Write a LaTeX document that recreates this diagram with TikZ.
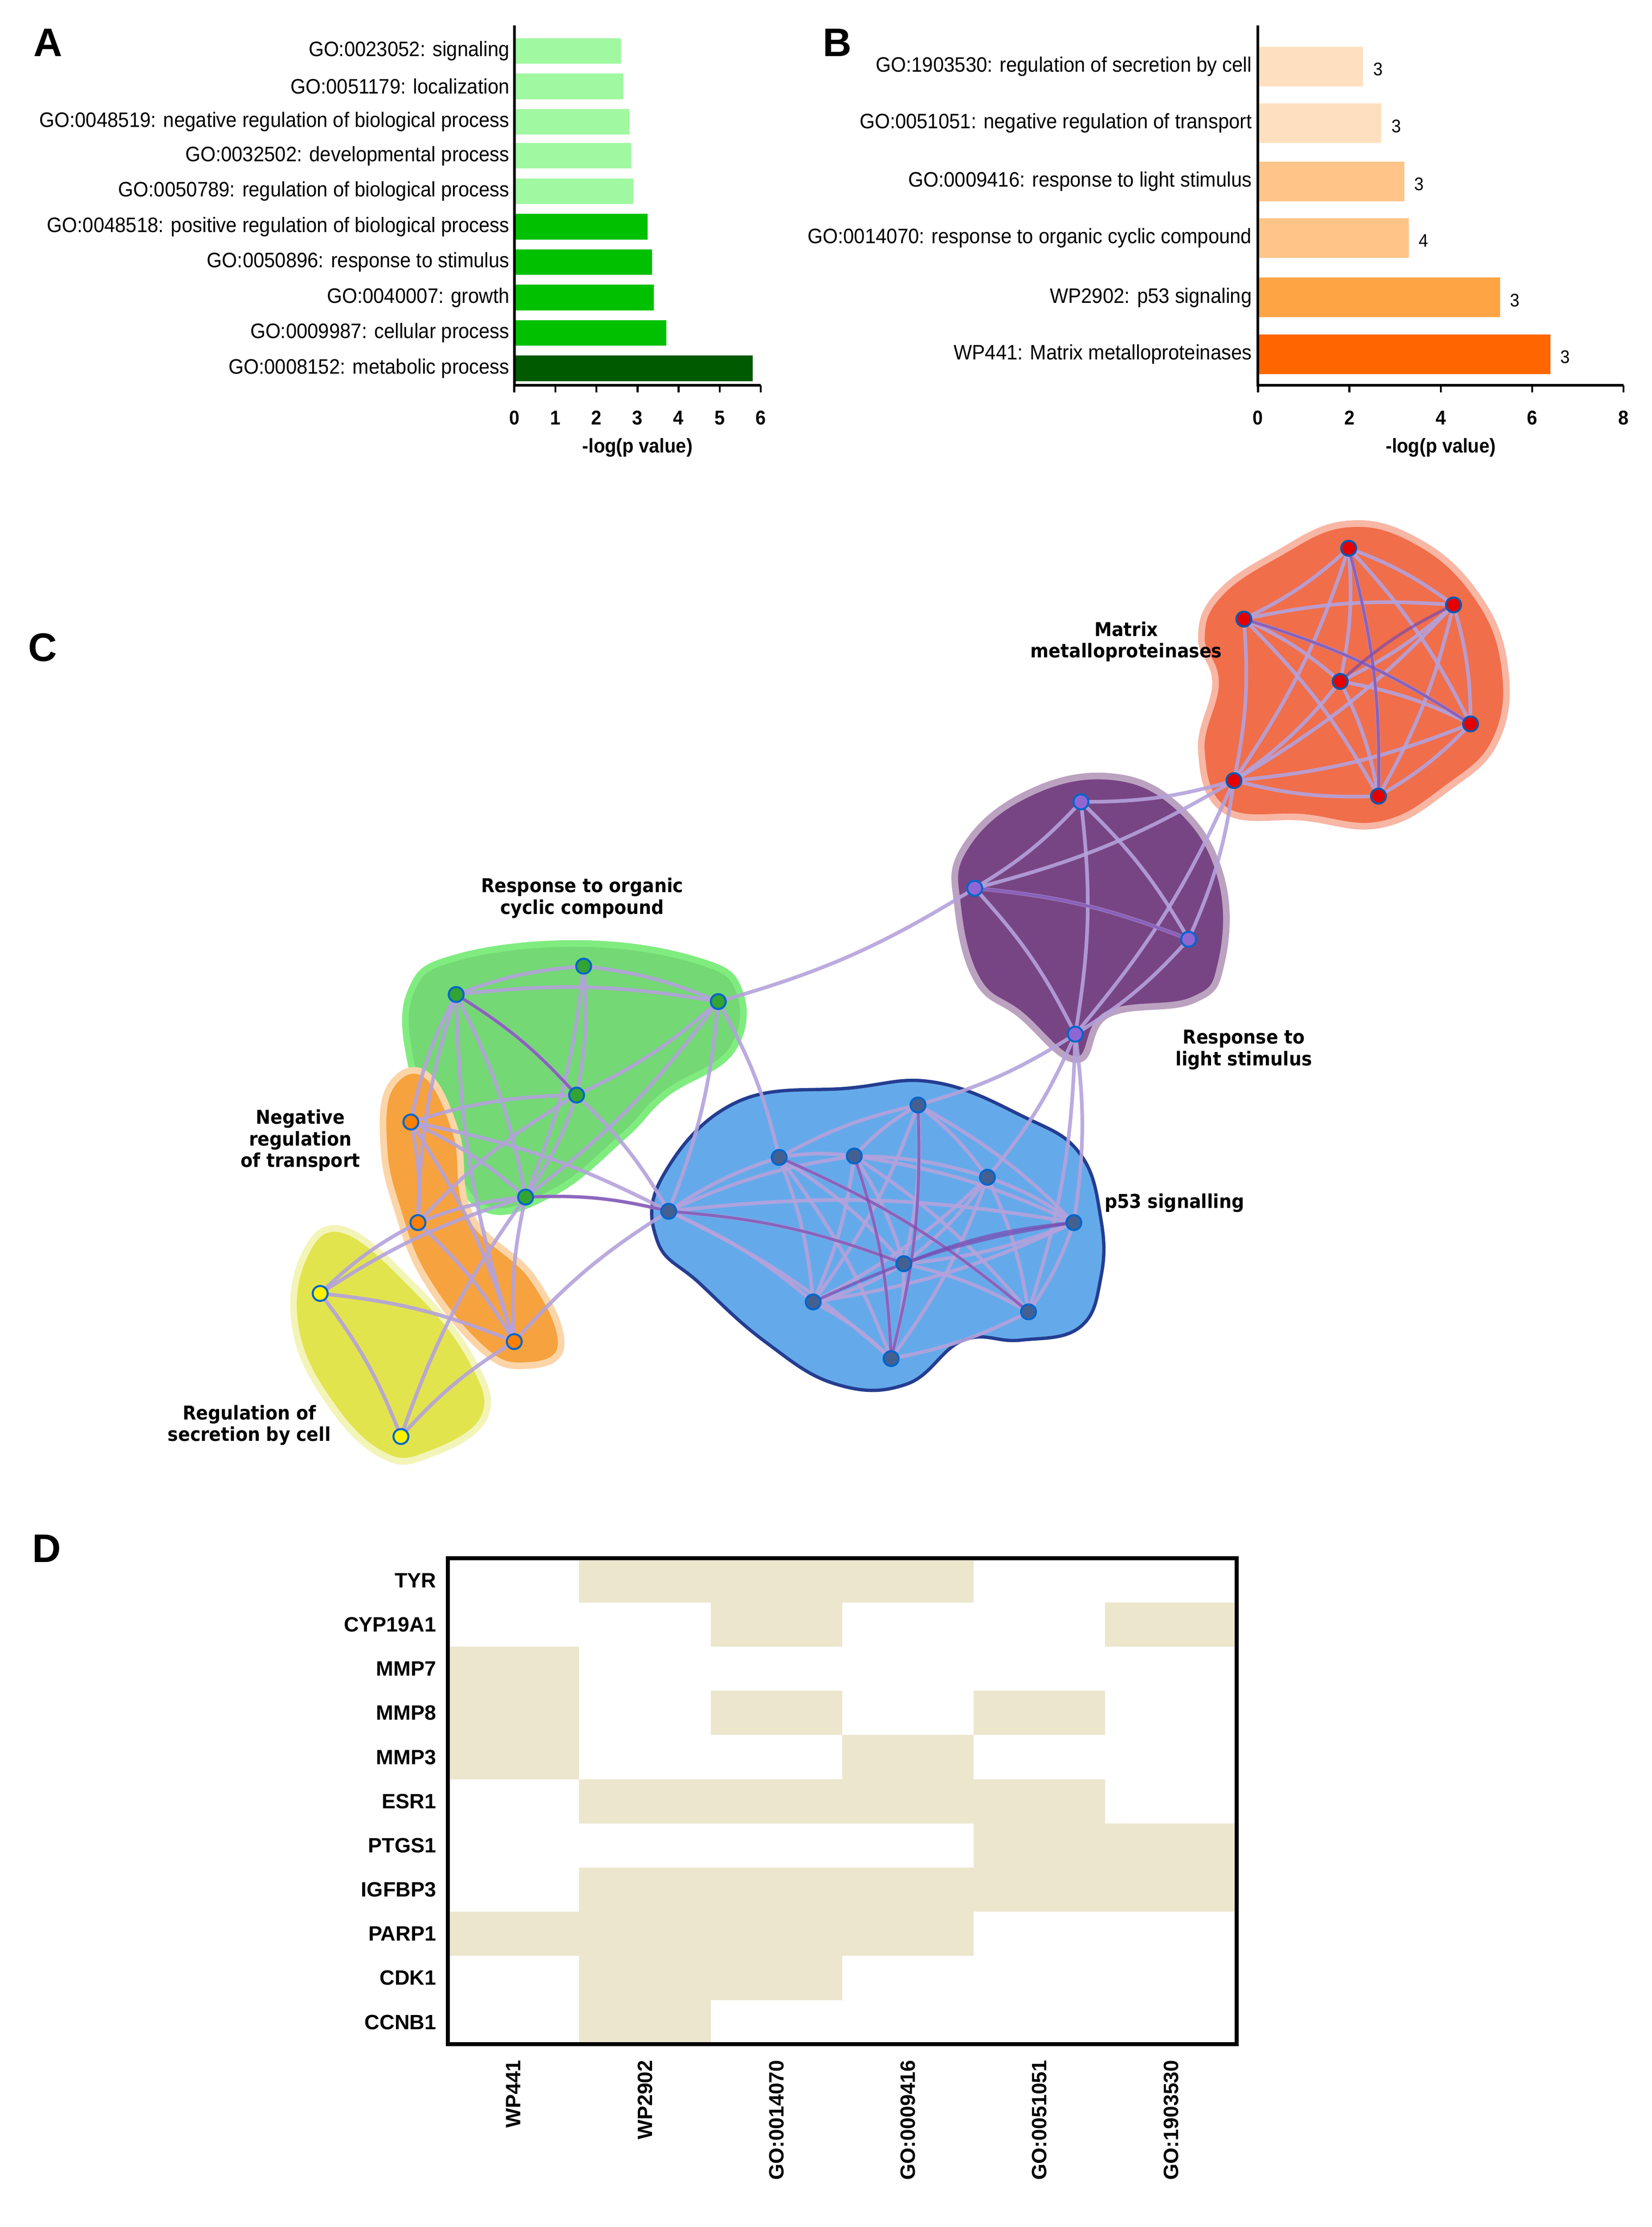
\documentclass[tikz,border=0pt]{standalone}
\usepackage{fontspec}
\setmainfont{Liberation Sans}
\newfontfamily\narrowf{Liberation Sans}[FakeStretch=0.93]
\newfontfamily\dvb{DejaVu Sans}[FakeStretch=0.92]
\definecolor{edgeC}{HTML}{B4A2DC}
\definecolor{edgeD}{HTML}{7A4AB0}
\definecolor{cR}{HTML}{F06E4A}
\definecolor{cP}{HTML}{784584}
\definecolor{cG}{HTML}{74D874}
\definecolor{cO}{HTML}{F6A23E}
\definecolor{cY}{HTML}{E2E44E}
\definecolor{cB}{HTML}{64AAEA}
\definecolor{hmC}{HTML}{ECE6CD}
\definecolor{gA}{HTML}{A0F8A0}
\definecolor{gB}{HTML}{00C000}
\definecolor{gC}{HTML}{005A00}
\definecolor{oA}{HTML}{FEE0C0}
\definecolor{oB}{HTML}{FEC488}
\definecolor{oC}{HTML}{FEA444}
\definecolor{oD}{HTML}{FF6600}
\begin{document}
\begin{tikzpicture}[x=0.03cm,y=-0.03cm,
  lab/.style={font=\narrowf\fontsize{12.6pt}{13pt}\selectfont,anchor=east,inner sep=1pt},
  tick/.style={font=\narrowf\bfseries\fontsize{12pt}{13pt}\selectfont},
  panel/.style={font=\bfseries\fontsize{24pt}{26pt}\selectfont},
  net/.style={font=\dvb\bfseries\fontsize{11.5pt}{13pt}\selectfont,align=center},
  hm/.style={font=\bfseries\fontsize{12.5pt}{14pt}\selectfont},
  nd/.style={circle,draw=#1,line width=1.2pt,minimum size=9pt,inner sep=0pt},
  ed/.style={draw=edgeC,line width=2.2pt,opacity=0.9},
  edd/.style={draw=edgeD,line width=1.8pt,opacity=0.7},
  blob/.style={line width=4pt,line join=round}]
\useasboundingbox (0,0) rectangle (1166,1572);
\fill[white] (0,0) rectangle (1166,1572);
% ---------- Panel A
\node[panel] (pA) at (34,30) {A};
\def\ax{363}\def\sx{29}
\foreach \y/\v/\c/\t in {36/2.6/gA/{GO:0023052: signaling},61/2.65/gA/{GO:0051179: localization},86/2.8/gA/{GO:0048519: negative regulation of biological process},110/2.85/gA/{GO:0032502: developmental process},135/2.9/gA/{GO:0050789: regulation of biological process},160/3.25/gB/{GO:0048518: positive regulation of biological process},185/3.35/gB/{GO:0050896: response to stimulus},210/3.4/gB/{GO:0040007: growth},235/3.7/gB/{GO:0009987: cellular process},260/5.8/gC/{GO:0008152: metabolic process}}{
  \fill[\c] (\ax,\y-9) rectangle (\ax+\sx*\v,\y+9);
  \node[lab] at (\ax-2,\y) {\t};}
\draw[line width=1.6pt] (\ax,18) -- (\ax,272) -- (\ax+6*\sx,272);
\foreach \i in {0,...,6}{\draw[line width=1.2pt] (\ax+\i*\sx,272)--(\ax+\i*\sx,277);
  \node[tick] at (\ax+\i*\sx,295) {\i};}
\node[tick] (xa) at (\ax+3*\sx,316) {-log(p value)};
% ---------- Panel B
\node[panel] (pB) at (591,30) {B};
\def\bx{888}\def\bs{32.25}
\foreach \y/\v/\c/\n/\t in {47/2.3/oA/3/{GO:1903530: regulation of secretion by cell},87/2.7/oA/3/{GO:0051051: negative regulation of transport},128/3.2/oB/3/{GO:0009416: response to light stimulus},168/3.3/oB/4/{GO:0014070: response to organic cyclic compound},210/5.3/oC/3/{WP2902: p53 signaling},250/6.4/oD/3/{WP441: Matrix metalloproteinases}}{
  \fill[\c] (\bx,\y-14) rectangle (\bx+\bs*\v,\y+14);
  \node[lab] at (\bx-3,\y) {\t};
  \node[font=\narrowf\fontsize{11pt}{12pt}\selectfont,anchor=west] at (\bx+\bs*\v+3,\y+2) {\n};}
\draw[line width=1.6pt] (\bx,18) -- (\bx,272) -- (\bx+8*\bs,272);
\foreach \i in {0,2,4,6,8}{\draw[line width=1.2pt] (\bx+\i*\bs,272)--(\bx+\i*\bs,277);
  \node[tick] at (\bx+\i*\bs,295) {\i};}
\node[tick] (xb) at (\bx+4*\bs,316) {-log(p value)};
% ---------- Panel C
\node[panel] (pC) at (30,457) {C};
\draw[blob,draw=cR!50,fill=cR] plot[smooth cycle,tension=0.7] coordinates {(860,420)(900,392)(950,370)(1000,382)(1042,420)(1062,470)(1056,522)(1022,556)(975,582)(920,577)(865,572)(848,530)(858,482)(848,450)};
\draw[blob,draw=cP!50,fill=cP] plot[smooth cycle,tension=0.7] coordinates {(680,600)(722,562)(782,548)(832,570)(862,620)(862,680)(842,706)(782,716)(760,748)(720,716)(690,692)(676,640)};
\draw[blob,draw=green!85!black!50,fill=cG] plot[smooth cycle,tension=0.7] coordinates {(290,700)(322,676)(410,666)(492,678)(522,700)(516,742)(470,772)(440,802)(390,842)(340,852)(310,800)(290,750)};
\draw[blob,draw=cO!45,fill=cO] plot[smooth cycle,tension=0.7] coordinates {(275,768)(300,758)(322,800)(332,858)(376,902)(396,950)(370,964)(340,952)(300,902)(280,852)(271,810)};
\draw[blob,draw=cY!40,fill=cY] plot[smooth cycle,tension=0.7] coordinates {(214,888)(242,868)(292,908)(332,958)(342,1000)(302,1027)(270,1027)(234,992)(209,940)};
\draw[line width=2pt,draw=cB!60!blue!60!black,fill=cB] plot[smooth cycle,tension=0.7] coordinates {(468,830)(520,778)(600,768)(660,764)(722,788)(762,814)(777,860)(777,902)(762,937)(720,946)(680,946)(640,977)(590,977)(540,947)(494,906)(464,876)};
% node positions
\foreach \n/\x/\y in {r1/952/387,r2/878/437,r3/1026/427,r4/946/481,r5/1038/511,r6/973/562,r7/871/551,p1/763/566,p2/688/627,p3/839/663,p4/759/730,g1/322/702,g2/412/682,g3/507/707,g4/407/773,g5/371/845,o1/290/792,o2/295/863,o3/363/947,y1/226/913,y2/283/1014,b1/472/855,b2/550/817,b3/603/816,b4/648/780,b5/697/831,b6/758/863,b7/638/892,b8/574/919,b9/726/926,b10/629/959}
  \coordinate (\n) at (\x,\y);
% edges
\foreach \a/\b in {r1/r2,r1/r3,r1/r4,r1/r5,r1/r6,r1/r7,r2/r3,r2/r4,r2/r5,r2/r6,r2/r7,r3/r4,r3/r5,r3/r6,r3/r7,r4/r5,r4/r6,r4/r7,r5/r6,r5/r7,r6/r7,
  r7/p1,r7/p2,r7/p3,r7/p4,p1/p2,p1/p3,p1/p4,p2/p3,p2/p4,p3/p4,p2/g3,p4/b4,p4/b5,p4/b6,p4/b9,
  g1/g2,g1/g3,g1/g4,g1/g5,g2/g3,g2/g4,g2/g5,g3/g4,g3/g5,g4/g5,g3/b1,g3/b2,
  o1/g1,o1/g4,o1/g5,o2/g1,o2/g5,o2/g4,o3/g1,o3/g5,o1/o2,o1/o3,o2/o3,
  y1/o2,y1/o3,y1/g5,y1/y2,y2/o3,y2/g5,g5/b1,o1/b1,o3/b1,g4/b1,
  b1/b2,b1/b3,b1/b7,b1/b8,b1/b10,b1/b6,b2/b3,b2/b4,b2/b7,b2/b8,b2/b10,b3/b4,b3/b5,b3/b7,b3/b8,b3/b9,b3/b10,b3/b6,
  b4/b5,b4/b7,b4/b8,b4/b10,b4/b6,b5/b6,b5/b7,b5/b8,b5/b9,b5/b10,b6/b7,b6/b9,b6/b8,b7/b8,b7/b9,b7/b10,b8/b10,b9/b10,b2/b9}
  \draw[ed] (\a) to[bend left=8] (\b);
\foreach \a/\b in {b4/b10,b8/b6,b1/b7,b2/b9,b3/b10,r2/r5,r1/r6,r4/r3,g1/g4,g5/b1,p2/p3,b7/b6}
  \draw[edd] (\a) to[bend left=8] (\b);
% node circles on top
\foreach \n in {r1,r2,r3,r4,r5,r6,r7}
  \node[nd=blue!50!cyan!70!black,fill=red!90!black] (n\n) at (\n) {};
\foreach \n in {p1,p2,p3,p4}
  \node[nd=blue!50!cyan!80!black,fill=violet!55!blue!60] (n\n) at (\n) {};
\foreach \n in {g1,g2,g3,g4,g5}
  \node[nd=blue!50!cyan!80!black,fill=green!55!black!80] (n\n) at (\n) {};
\foreach \n in {o1,o2,o3}
  \node[nd=blue!50!cyan!80!black,fill=orange] (n\n) at (\n) {};
\foreach \n in {y1,y2}
  \node[nd=blue!50!cyan!80!black,fill=yellow] (n\n) at (\n) {};
\foreach \n in {b1,b2,b3,b4,b5,b6,b7,b8,b9,b10}
  \node[nd=blue!50!cyan!80!black,fill=cyan!45!blue!65!black] (n\n) at (\n) {};
\node[net] (lm) at (795,453) {Matrix\\metalloproteinases};
\node[net] (ll) at (878,741) {Response to\\light stimulus};
\node[net] (lo) at (411,634) {Response to organic\\cyclic compound};
\node[net] (ln) at (212,805) {Negative\\regulation\\of transport};
\node[net] (lp) at (829,849) {p53 signalling};
\node[net] (ls) at (176,1006) {Regulation of\\secretion by cell};
% ---------- Panel D
\node[panel] (pD) at (33,1093) {D};
\def\hx{316}\def\hy{1100}\def\cw{92.83}\def\rh{31.18}
\foreach \r/\cols [count=\i from 0] in {TYR/{2,3,4},CYP19A1/{3,6},MMP7/{1},MMP8/{1,3,5},MMP3/{1,4},ESR1/{2,3,4,5},PTGS1/{5,6},IGFBP3/{2,3,4,5,6},PARP1/{1,2,3,4},CDK1/{2,3},CCNB1/{2}}{
  \foreach \c in \cols {\fill[hmC] (\hx+\c*\cw-\cw,\hy+\i*\rh) rectangle (\hx+\c*\cw,\hy+\i*\rh+\rh);}
  \node[hm,anchor=east] at (\hx-4,\hy+\i*\rh+\rh/2) {\r};}
\draw[line width=2.4pt] (\hx,\hy) rectangle (873,1443);
\foreach \t [count=\c] in {WP441,WP2902,GO:0014070,GO:0009416,GO:0051051,GO:1903530}
  \node[hm,rotate=90,anchor=east] at (\hx+\c*\cw-\cw/2,1450) {\t};
\end{tikzpicture}
\end{document}
